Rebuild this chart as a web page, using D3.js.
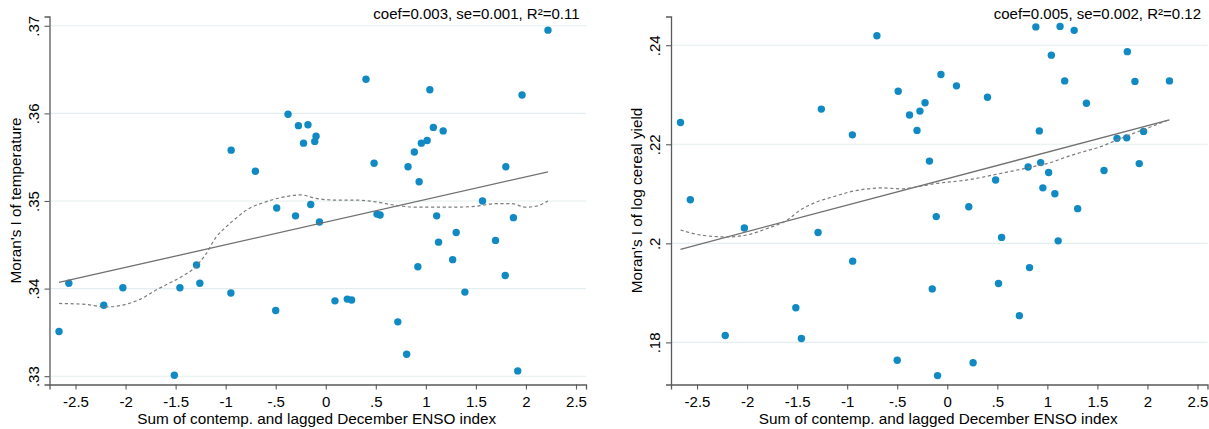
<!DOCTYPE html>
<html>
<head>
<meta charset="utf-8">
<script src="https://cdn.jsdelivr.net/npm/d3@7/dist/d3.min.js"></script>
<style>
  html, body { margin: 0; padding: 0; background: #fff; }
  svg { display: block; }
  text { font-family: "Liberation Sans", Arial, Helvetica, sans-serif; fill: #000; }
</style>
</head>
<body>
<svg id="chart" width="1209" height="429"></svg>
<script>
// ENSO index (sum of contemporaneous and lagged December values), one per year
const enso = [
  -2.665, -2.567, -2.218, -2.027, -1.513, -1.457, -1.291, -1.258, -0.948, -0.945,
  -0.703, -0.500, -0.490, -0.377, -0.302, -0.273, -0.222, -0.178, -0.150, -0.110,
  -0.097, -0.063, 0.092, 0.215, 0.258, 0.402, 0.483, 0.512, 0.543, 0.720,
  0.808, 0.822, 0.885, 0.920, 0.933, 0.955, 1.013, 1.040, 1.075, 1.108,
  1.127, 1.173, 1.268, 1.303, 1.390, 1.566, 1.696, 1.793, 1.799, 1.875,
  1.918, 1.961, 2.220
];

// Moran's I of temperature, same year order as enso
const moranTemp = [
  0.3351, 0.3406, 0.3381, 0.3401, 0.3301, 0.3401, 0.3427, 0.3406, 0.3395, 0.3558,
  0.3534, 0.3375, 0.3492, 0.3599, 0.3483, 0.3586, 0.3566, 0.3587, 0.3496, 0.3568,
  0.3574, 0.3476, 0.3386, 0.3388, 0.3387, 0.3639, 0.3543, 0.3485, 0.3484, 0.3362,
  0.3325, 0.3539, 0.3556, 0.3425, 0.3522, 0.3566, 0.3569, 0.3627, 0.3584, 0.3483,
  0.3453, 0.3580, 0.3433, 0.3464, 0.3396, 0.3500, 0.3455, 0.3415, 0.3539, 0.3481,
  0.3306, 0.3621, 0.3695
];

// Moran's I of log cereal yield, same year order as enso
const moranCereal = [
  0.2244, 0.2088, 0.1814, 0.2031, 0.1870, 0.1808, 0.2022, 0.2271, 0.2219, 0.1964,
  0.2419, 0.1764, 0.2307, 0.2259, 0.2228, 0.2267, 0.2284, 0.2166, 0.1908, 0.2054,
  0.1733, 0.2341, 0.2318, 0.2074, 0.1759, 0.2295, 0.2128, 0.1919, 0.2012, 0.1854,
  0.2154, 0.1951, 0.2437, 0.2227, 0.2163, 0.2112, 0.2143, 0.2380, 0.2100, 0.2005,
  0.2438, 0.2328, 0.2430, 0.2070, 0.2283, 0.2147, 0.2212, 0.2213, 0.2387, 0.2327,
  0.2161, 0.2226, 0.2328
];

// Local smoother curves (x grid and fitted values)
const tempSmoothX = [-2.665, -2.4, -2.2, -2.0, -1.85, -1.7, -1.55, -1.45, -1.3, -1.2, -1.1, -1.0, -0.9, -0.8,
  -0.6, -0.4, -0.25, -0.1, 0.1, 0.3, 0.5, 0.7, 0.9, 1.1, 1.3, 1.5, 1.7, 1.85, 2.0, 2.1, 2.22];
const tempSmoothY = [0.3383, 0.3382, 0.3379, 0.3382, 0.3388, 0.3398, 0.3407, 0.3413, 0.3425, 0.3439, 0.3458, 0.3470, 0.3480, 0.3489,
  0.3499, 0.3505, 0.3507, 0.3503, 0.3501, 0.3501, 0.3499, 0.3495, 0.3493, 0.3493, 0.3493, 0.3494, 0.3497, 0.3497, 0.3493, 0.3494, 0.3500];

const cerealSmoothX = [-2.665, -2.47, -2.2, -2.0, -1.8, -1.6, -1.47, -1.3, -1.14, -0.97, -0.8, -0.64, -0.47, -0.3,
  -0.14, 0.2, 0.53, 0.86, 1.03, 1.2, 1.36, 1.53, 1.7, 1.86, 2.03, 2.22];
const cerealSmoothY = [0.2027, 0.2017, 0.2013, 0.2017, 0.2030, 0.2047, 0.2067, 0.2084, 0.2094, 0.2104, 0.2110, 0.2112, 0.2110, 0.2114,
  0.2120, 0.2128, 0.2141, 0.2155, 0.2163, 0.2175, 0.2185, 0.2195, 0.2209, 0.2222, 0.2235, 0.2250];

// Axis ticks and labels
const xTicks = [-2.5, -2, -1.5, -1, -0.5, 0, 0.5, 1, 1.5, 2, 2.5];
const xTickLabels = ["-2.5", "-2", "-1.5", "-1", "-.5", "0", ".5", "1", "1.5", "2", "2.5"];
const tempTicks = [0.33, 0.34, 0.35, 0.36, 0.37];
const tempTickLabels = [".33", ".34", ".35", ".36", ".37"];
const cerealTicks = [0.18, 0.20, 0.22, 0.24];
const cerealTickLabels = [".18", ".2", ".22", ".24"];

// Titles and regression summaries
const xTitle = "Sum of contemp. and lagged December ENSO index";
const yTitles = ["Moran's I of temperature", "Moran's I of log cereal yield"];
const statLabels = ["coef=0.003, se=0.001, R\u00B2=0.11", "coef=0.005, se=0.002, R\u00B2=0.12"];

const svg = d3.select("#chart");

const COLORS = {
  marker: "#118ac4",
  axis: "#5a5a5a",
  grid: "#e4eef0",
  fit: "#707070",
  smooth: "#7c7c7c"
};

function ols(xs, ys) {
  const mx = d3.mean(xs), my = d3.mean(ys);
  let sxy = 0, sxx = 0;
  xs.forEach((x, i) => { sxy += (x - mx) * (ys[i] - my); sxx += (x - mx) * (x - mx); });
  const b = sxy / sxx;
  return { a: my - b * mx, b };
}

function panel(opt) {
  const g = svg.append("g");
  const x = d3.scaleLinear().domain([-2.76, 2.60]).range([opt.left, opt.left + 536.5]);
  const y = d3.scaleLinear().domain(opt.yDomain).range([384.5, 16.5]);

  // horizontal grid
  g.append("g").selectAll("line").data(opt.yTicks).join("line")
    .attr("x1", x.range()[0]).attr("x2", x.range()[1])
    .attr("y1", d => y(d)).attr("y2", d => y(d))
    .attr("stroke", COLORS.grid).attr("stroke-width", 1.1);

  // x axis
  const xAxis = g.append("g").attr("transform", "translate(0,384.5)")
    .call(d3.axisBottom(x).tickValues(xTicks).tickSize(5).tickPadding(4)
      .tickFormat((d, i) => xTickLabels[i]));
  xAxis.select(".domain").attr("stroke", COLORS.axis).attr("stroke-width", 1.3);
  xAxis.selectAll(".tick line").attr("stroke", COLORS.axis).attr("stroke-width", 1.1);
  xAxis.selectAll(".tick text").attr("font-size", "15px").attr("fill", "#000")
    .attr("font-family", "'Liberation Sans', Arial, sans-serif")
    .attr("dy", null).attr("y", 22.8);

  // y axis
  const yAxis = g.append("g").attr("transform", `translate(${opt.left},0)`)
    .call(d3.axisLeft(y).tickValues(opt.yTicks).tickSize(5)
      .tickFormat((d, i) => opt.yTickLabels[i]));
  yAxis.select(".domain").attr("stroke", COLORS.axis).attr("stroke-width", 1.3);
  yAxis.selectAll(".tick line").attr("stroke", COLORS.axis).attr("stroke-width", 1.1);
  yAxis.selectAll(".tick text")
    .attr("font-size", "15px").attr("fill", "#000")
    .attr("font-family", "'Liberation Sans', Arial, sans-serif")
    .attr("x", null).attr("dy", null)
    .attr("text-anchor", "middle")
    .attr("transform", "translate(-11,0) rotate(-90)");

  // scatter
  g.append("g").selectAll("circle").data(enso).join("circle")
    .attr("cx", d => x(d))
    .attr("cy", (d, i) => y(opt.values[i]))
    .attr("r", 3.7)
    .attr("fill", COLORS.marker);

  // linear fit
  const fit = ols(enso, opt.values);
  const [x0, x1] = d3.extent(enso);
  g.append("line")
    .attr("x1", x(x0)).attr("y1", y(fit.a + fit.b * x0))
    .attr("x2", x(x1)).attr("y2", y(fit.a + fit.b * x1))
    .attr("stroke", COLORS.fit).attr("stroke-width", 1.3);

  // local smoother
  const line = d3.line().x(d => x(d[0])).y(d => y(d[1])).curve(d3.curveMonotoneX);
  g.append("path")
    .attr("d", line(opt.smoothX.map((v, i) => [v, opt.smoothY[i]])))
    .attr("fill", "none").attr("stroke", COLORS.smooth)
    .attr("stroke-width", 1.2).attr("stroke-dasharray", "3.2,2.6");

  // titles
  g.append("text")
    .attr("x", (x.range()[0] + x.range()[1]) / 2 - 1).attr("y", 423.5)
    .attr("text-anchor", "middle").attr("font-size", "15.3px")
    .text(xTitle);
  g.append("text")
    .attr("transform", `translate(${opt.left - 29},200.5) rotate(-90)`)
    .attr("text-anchor", "middle").attr("font-size", "15.3px")
    .text(opt.yTitle);
  g.append("text")
    .attr("x", x.range()[1] - 6.5).attr("y", 18.8)
    .attr("text-anchor", "end").attr("font-size", "15px")
    .text(opt.stat);
}

panel({
  left: 49.5, yDomain: [0.32905, 0.37106], values: moranTemp,
  yTicks: tempTicks, yTickLabels: tempTickLabels,
  smoothX: tempSmoothX, smoothY: tempSmoothY,
  yTitle: yTitles[0], stat: statLabels[0]
});

panel({
  left: 671, yDomain: [0.1715, 0.2458], values: moranCereal,
  yTicks: cerealTicks, yTickLabels: cerealTickLabels,
  smoothX: cerealSmoothX, smoothY: cerealSmoothY,
  yTitle: yTitles[1], stat: statLabels[1]
});
</script>
</body>
</html>
